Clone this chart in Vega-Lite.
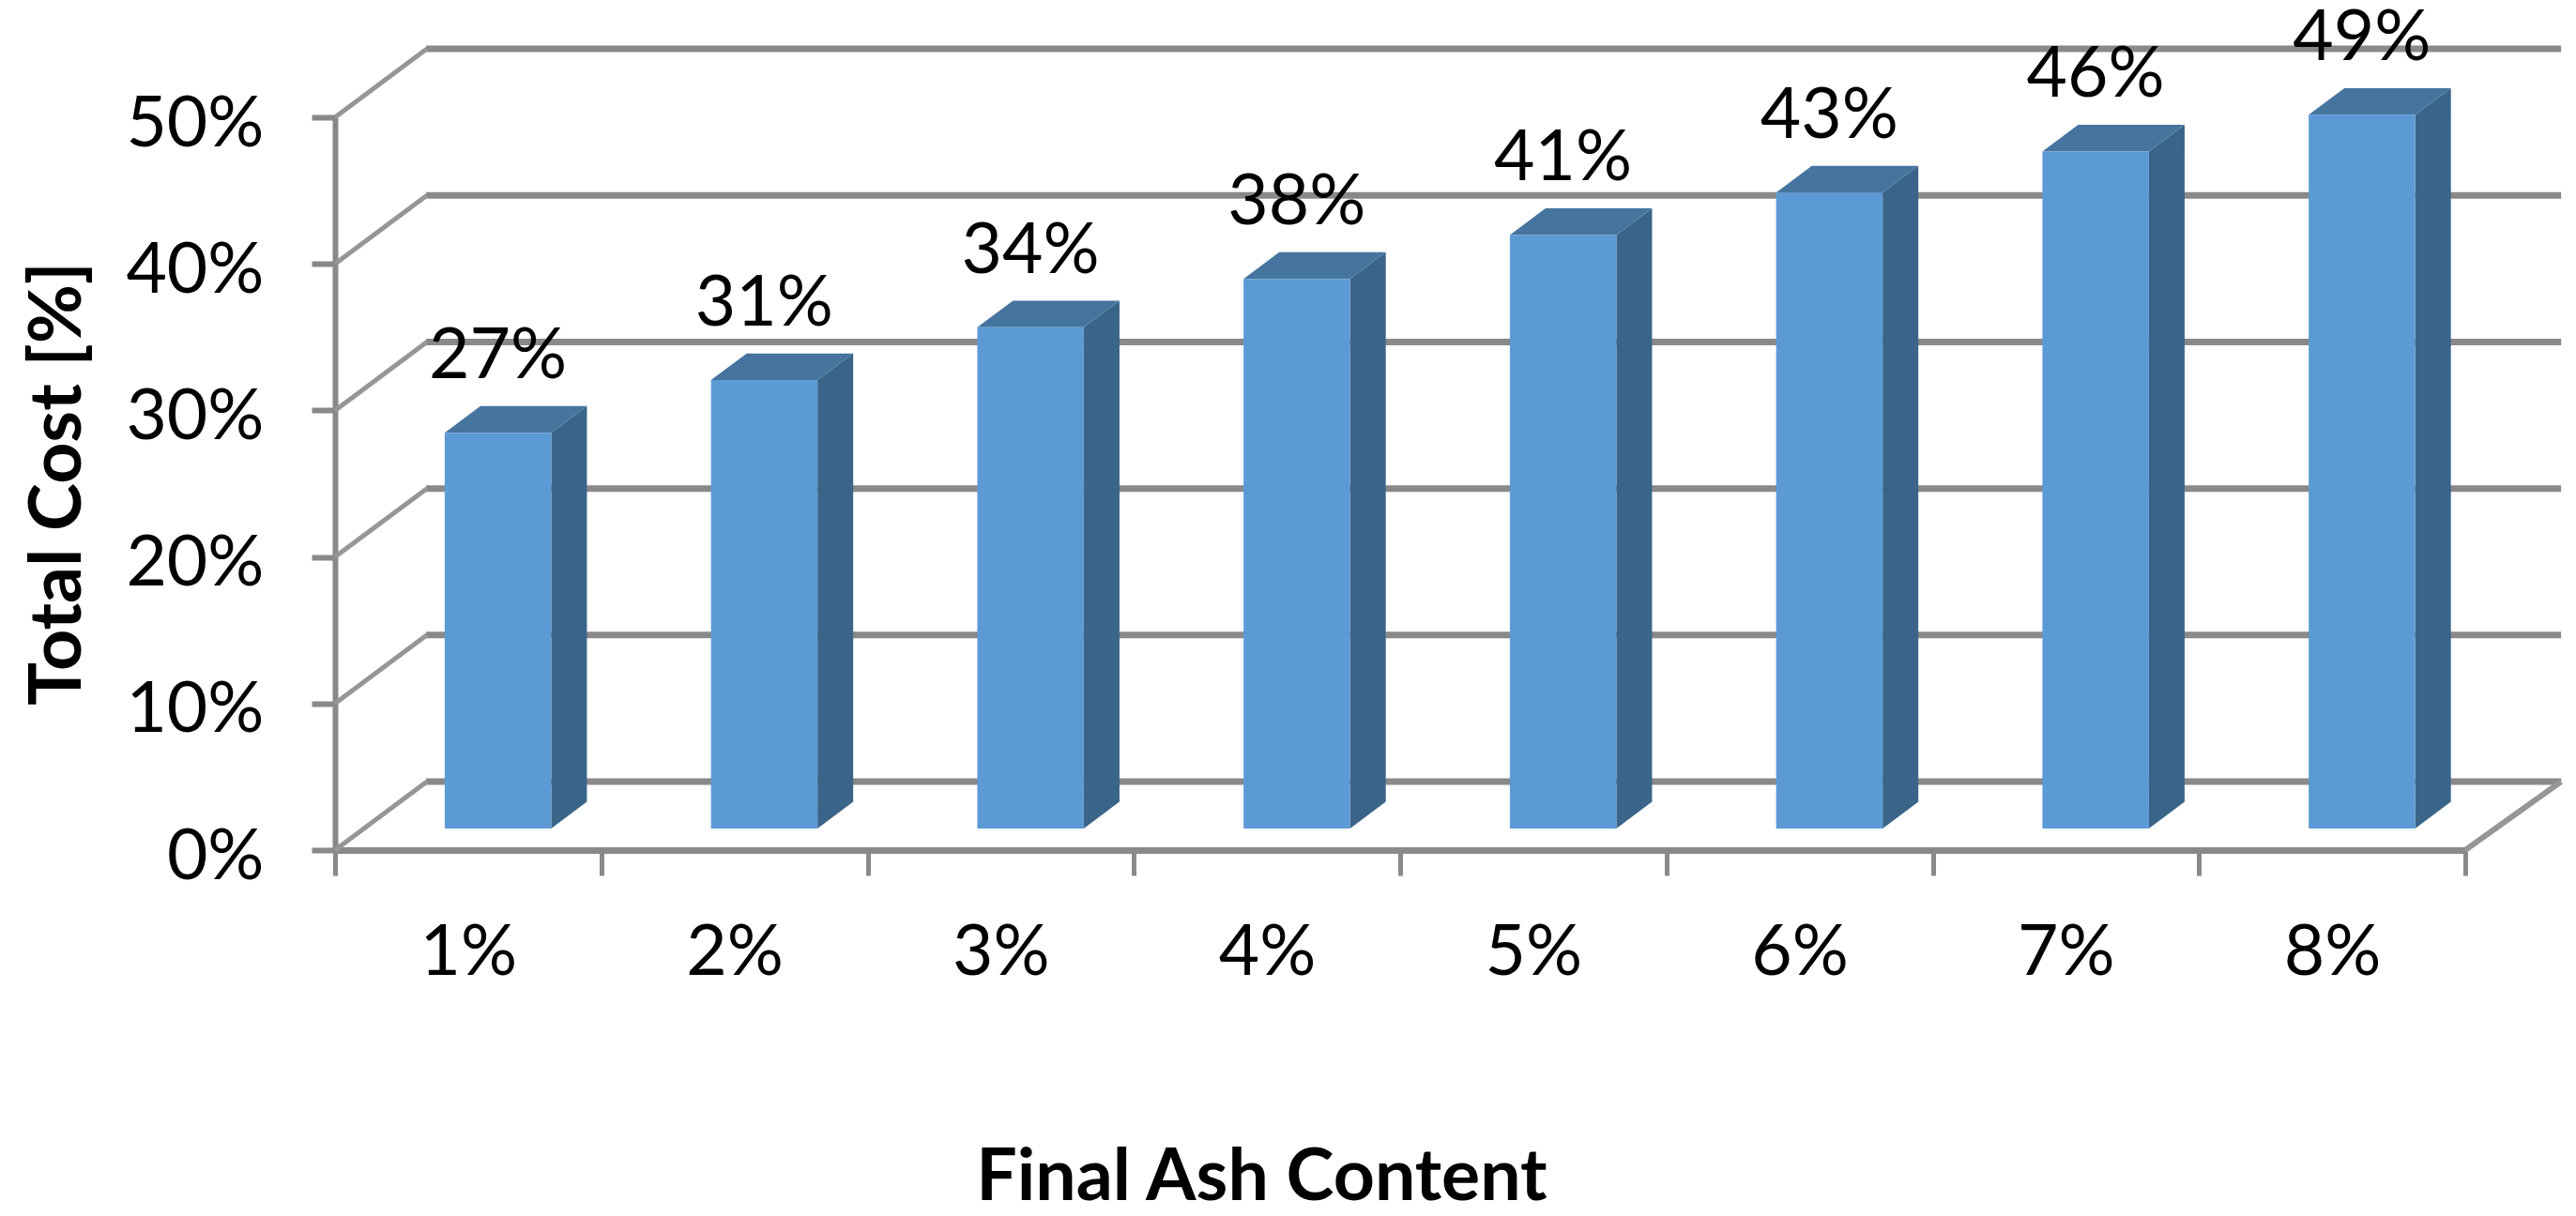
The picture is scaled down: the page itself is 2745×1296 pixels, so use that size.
{
"$schema":"https://vega.github.io/schema/vega-lite/v6.json",
"width":2270,"height":781,
"autosize":"none",
"padding":{"left":357,"top":125,"right":118,"bottom":390},
"background":"white",
"config":{"view":{"stroke":null},"font":"Lato"},
"datasets":{
"bars":[{"ash":"1%","cost":0.27},{"ash":"2%","cost":0.306},{"ash":"3%","cost":0.342},{"ash":"4%","cost":0.3751},{"ash":"5%","cost":0.405},{"ash":"6%","cost":0.434},{"ash":"7%","cost":0.462},{"ash":"8%","cost":0.487}],
"grid":[{"tick":0},{"tick":0.1},{"tick":0.2},{"tick":0.3},{"tick":0.4},{"tick":0.5}]
},
"data":{"name":"bars"},
"resolve":{"scale":{"x":"independent"},"axis":{"x":"independent"}},
"layer":[
{"mark":{"type":"bar","opacity":0},
"encoding":{
"x":{"field":"ash","type":"nominal","sort":null,"scale":{"paddingInner":0,"paddingOuter":0},
"axis":{"title":"Final Ash Content","titleFont":"Lato","titleFontSize":77,"titleFontWeight":"bold","titleColor":"#000","titleX":987,"titleY":311,"titleAnchor":"middle","labelAngle":0,"labelFontSize":75,"labelFont":"Lato","labelColor":"#000","labelPadding":46,"tickBand":"extent","tickSize":27,"tickWidth":5,"tickColor":"#898989","domainColor":"#898989","domainWidth":7,"grid":false}},
"y":{"field":"cost","type":"quantitative","scale":{"domain":[0,0.5],"nice":false},
"axis":{"title":"Total Cost [%]","titleFont":"Lato","titleFontSize":77,"titleFontWeight":"bold","titleColor":"#000","titleX":-256,"titleY":390,"format":".0%","values":[0,0.1,0.2,0.3,0.4,0.5],"labelFontSize":75,"labelFont":"Lato","labelColor":"#000","labelPadding":51,"labelOffset":7,"tickSize":25,"tickWidth":6,"tickColor":"#898989","domainColor":"#898989","domainWidth":6,"grid":false}}
}},
{"data":{"name":"grid"},
"transform":[{"calculate":"datum.tick+0.0467","as":"tickBack"}],
"mark":{"type":"rule","color":"#898989","strokeWidth":7,"clip":false},
"encoding":{
"x":{"datum":0.342,"type":"quantitative","scale":{"domain":[0,8],"nice":false,"zero":false},"axis":null},
"x2":{"datum":8.36},
"y":{"field":"tickBack","type":"quantitative"}
}},
{"data":{"name":"grid"},
"transform":[{"calculate":"datum.tick+0.0467","as":"tickBack"}],
"mark":{"type":"rule","color":"#969696","strokeWidth":5,"clip":false},
"encoding":{
"x":{"datum":0,"type":"quantitative","scale":{"domain":[0,8],"nice":false,"zero":false},"axis":null},
"x2":{"datum":0.345},
"y":{"field":"tick","type":"quantitative"},
"y2":{"field":"tickBack"}
}},
{"data":{"name":"grid"},
"transform":[{"filter":"datum.tick===0"},{"calculate":"datum.tick+0.0467","as":"tickBack"}],
"mark":{"type":"rule","color":"#969696","strokeWidth":6,"clip":false},
"encoding":{
"x":{"datum":8,"type":"quantitative","scale":{"domain":[0,8],"nice":false,"zero":false},"axis":null},
"x2":{"datum":8.36},
"y":{"field":"tick","type":"quantitative"},
"y2":{"field":"tickBack"}
}},
{"transform":[
{"window":[{"op":"row_number","as":"rank"}]},
{"calculate":"datum.rank-1+0.412","as":"xl"},
{"calculate":"datum.xl+0.4","as":"xr"},
{"calculate":"datum.cost+0.0147","as":"topY"}
],
"layer":[
{"transform":[
{"calculate":"[0,1]","as":"t"},{"flatten":["t"]},
{"calculate":"datum.xr+datum.t*0.134","as":"px"},
{"calculate":"0.0147+datum.t*0.0182","as":"py0"},
{"calculate":"datum.topY+datum.t*0.0182","as":"py1"}
],
"mark":{"type":"area","color":"#3A6589","clip":false,"interpolate":"linear"},
"encoding":{
"detail":{"field":"ash"},
"x":{"field":"px","type":"quantitative","scale":{"domain":[0,8],"nice":false,"zero":false},"axis":null},
"y":{"field":"py0","type":"quantitative"},
"y2":{"field":"py1"}
}},
{"transform":[
{"calculate":"[0,1,2,3]","as":"t"},{"flatten":["t"]},
{"calculate":"(datum.t<2?datum.xl:datum.xr)+(datum.t%2)*0.134","as":"px"},
{"calculate":"datum.t===3?datum.topY+0.0182:datum.topY","as":"py0"},
{"calculate":"datum.t===0?datum.topY:datum.topY+0.0182","as":"py1"}
],
"mark":{"type":"area","color":"#45759F","clip":false,"interpolate":"linear"},
"encoding":{
"detail":{"field":"ash"},
"x":{"field":"px","type":"quantitative"},
"y":{"field":"py0","type":"quantitative"},
"y2":{"field":"py1"}
}},
{"transform":[{"calculate":"0.0147","as":"baseY"}],
"mark":{"type":"rect","color":"#5C9AD6","clip":false},
"encoding":{
"x":{"field":"xl","type":"quantitative"},
"x2":{"field":"xr"},
"y":{"field":"baseY","type":"quantitative"},
"y2":{"field":"topY"}
}},
{"transform":[{"calculate":"datum.xl+0.2","as":"xc"},{"calculate":"datum.topY+0.052","as":"labelY"}],
"mark":{"type":"text","font":"Lato","fontSize":75,"color":"#000","baseline":"middle","align":"center","clip":false},
"encoding":{
"x":{"field":"xc","type":"quantitative"},
"y":{"field":"labelY","type":"quantitative"},
"text":{"field":"cost","type":"quantitative","format":".0%"}
}}
]}
]
}
